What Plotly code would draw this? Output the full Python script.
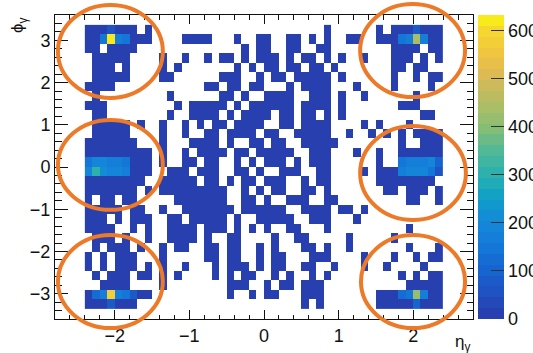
import numpy as np
import plotly.graph_objects as go

# ---- binning: eta in 0.1 steps, phi in pi/14 steps ----
eta_lo, eta_hi, n_eta = -2.4, 2.4, 48
n_phi = 30
phi_width = np.pi / 14

# ---- bin occupancy, highest-phi row first ('#' = low-count bin, '.' = empty) ----
occupancy = [
    "#######.#......." + "................#" + "......#.#######",
    "#########....###" + "#...#..##..##.#.#" + "..##..#########",
    "##.####........." + ".....#.##..##..##" + "........####.##",
    ".#####....#..#.." + "#.##.#.###.#.##.#" + ".#..#...###.#.#",
    ".###.#....#.#..." + "....#.#.##.##.##." + "#.......##.##..",
    ".#####....##...." + "..###..#.##.#####" + ".#......#..#.##",
    "####............" + "##.##.##...#.####" + "...#....#....#.",
    ".#.........#...." + "..##.#..####..###" + ".#..#......#...",
    "###.........#.##" + "###.#.######.####" + ".#.......###...",
    ".##........#..##" + "##.#.####.##.##.#" + ".#..........##.",
    ".#####.#..#..#.#" + ".##.####..##.####" + "....#.#...#....",
    ".#####....#..#.." + "##.####.##..#####" + "..#..#.#.#.####",
    "#######...#...##" + "##.#..##.##..####" + "#........#..###",
    "#########.#..#.#" + "###.##.#####..###" + "...#..#..######",
    "#########.#..##." + "##..#.#.###.#.###" + "......#..######",
    "#########..###.#" + "##..##.#..###..##" + "....#.#########",
    "########..#####." + "##.#.##.###..#.##" + "......########.",
    "#######.#.######" + "###..#.#.##..##.#" + ".......##.###.#",
    "#.##.##.....####" + "###..##.#..###..#" + "#.........##..#",
    "#####.##..#..###" + "####.######..####" + ".##.#..........",
    "###.#.###..##.##" + "###.#..#####..###" + "...#...........",
    "####..#.#..####." + "###.#.#.#..##...#" + "..........#....",
    ".###.#..#..####." + "#..##....#..##..." + "..#.....#......",
    ".#.###.#..#.##.." + "##.##..#.#...##.#" + "..#.......#...#",
    "#.#.###...#....." + "##.##..#.##...###" + "....#...#..#.##",
    "#.#.###.#.#..#.." + ".#.###.#.##..##.." + "#...#..#....#..",
    ".#.###.##.#.#..." + ".#.#.##..#.#..#.#" + ".........#.#.##",
    "..####....#....." + "...###..#.##.###." + "..........#####",
    "#########......." + "...#..#.##...###." + "......#########",
    "#######........." + ".............#.#." + "......#########",
]
low_count = 12

# ---- high-count bins: (row from top, eta column, entries) ----
hot_row = [0, 1, 1, 1, 1,
           14, 14, 14, 14, 14, 14, 15, 15, 15, 15, 15, 15,
           28, 28, 28, 28, 28, 28, 29,
           0, 1, 1, 1, 1,
           14, 14, 14, 14, 14, 14, 15, 15, 15, 15, 15, 15,
           28, 28, 28, 28, 29]
hot_col = [3, 2, 3, 4, 5,
           0, 1, 2, 3, 4, 5, 0, 1, 2, 3, 4, 5,
           1, 2, 3, 4, 5, 6, 3,
           44, 42, 43, 44, 45,
           42, 43, 44, 45, 46, 47, 42, 43, 44, 45, 46, 47,
           42, 43, 44, 45, 44]
hot_count = [55, 140, 625, 165, 140,
             150, 200, 190, 180, 180, 150, 200, 300, 220, 200, 200, 180,
             120, 160, 570, 180, 150, 80, 90,
             90, 150, 170, 430, 180,
             140, 160, 160, 160, 190, 100, 170, 190, 190, 190, 150, 60,
             120, 150, 410, 160, 110]

z_max = 633
cbar_ticks = [0, 100, 200, 300, 400, 500, 600]

# palette stops (fraction of z range, colour)
palette = [
    (0.00, "#2A3CAA"), (0.08, "#2050C0"), (0.16, "#1664D0"), (0.24, "#1478D8"),
    (0.32, "#1488D8"), (0.40, "#10A0C8"), (0.47, "#28B0B0"), (0.55, "#50B898"),
    (0.63, "#88BE74"), (0.71, "#B0BE64"), (0.79, "#D8B858"), (0.87, "#F0C440"),
    (0.95, "#F6D830"), (1.00, "#F9F50F"),
]

# ---- build histogram array ----
eta_centers = eta_lo + (np.arange(n_eta) + 0.5) * (eta_hi - eta_lo) / n_eta
phi_centers = (np.arange(n_phi) + 0.5 - n_phi / 2) * phi_width

z = np.full((n_phi, n_eta), np.nan)
for r, line in enumerate(occupancy):
    for c, ch in enumerate(line):
        if ch == "#":
            z[n_phi - 1 - r, c] = low_count
for r, c, v in zip(hot_row, hot_col, hot_count):
    z[n_phi - 1 - r, c] = v


def hex_rgb(h):
    h = h.lstrip("#")
    return np.array([int(h[i:i + 2], 16) for i in (0, 2, 4)], dtype=float)


def palette_at(f):
    fs = [p[0] for p in palette]
    cols = [hex_rgb(p[1]) for p in palette]
    for i in range(len(fs) - 1):
        if fs[i] <= f <= fs[i + 1]:
            t = (f - fs[i]) / (fs[i + 1] - fs[i])
            rgb = cols[i] + t * (cols[i + 1] - cols[i])
            return "rgb(%d,%d,%d)" % tuple(np.round(rgb).astype(int))
    return palette[-1][1]


# contour-style banded colour scale
n_bands = 28
colorscale = []
for i in range(n_bands):
    col = palette_at((i + 0.5) / n_bands)
    colorscale.append([i / n_bands, col])
    colorscale.append([(i + 1) / n_bands, col])

font_family = "Liberation Sans, Arial, sans-serif"
axis_col = "#111111"

fig = go.Figure(
    go.Heatmap(
        x=eta_centers, y=phi_centers, z=z,
        zmin=0, zmax=z_max, colorscale=colorscale,
        hoverongaps=False,
        colorbar=dict(
            thickness=26, thicknessmode="pixels",
            len=1, lenmode="fraction",
            x=1.012, xanchor="left", xpad=0,
            y=0.5, yanchor="middle", ypad=0,
            outlinewidth=0,
            ticks="inside", ticklen=13, tickwidth=1, tickcolor="#333333",
            tickvals=cbar_ticks,
            tickfont=dict(family=font_family, size=18, color="#111111"),
        ),
    )
)

fig.update_xaxes(
    range=[-2.8, 2.8], showgrid=False, zeroline=False,
    showline=True, linecolor=axis_col, linewidth=1, mirror="ticks",
    ticks="inside", ticklen=9, tickwidth=1, tickcolor=axis_col,
    tickvals=[-2, -1, 0, 1, 2],
    tickfont=dict(family=font_family, size=18, color="#111111"),
    minor=dict(ticks="inside", ticklen=4.5, tick0=0, dtick=0.2,
               tickcolor=axis_col, showgrid=False),
)
fig.update_yaxes(
    range=[-3.6, 3.6], showgrid=False, zeroline=False,
    showline=True, linecolor=axis_col, linewidth=1, mirror="ticks",
    ticks="inside", ticklen=13, tickwidth=1, tickcolor=axis_col,
    tickvals=[-3, -2, -1, 0, 1, 2, 3],
    tickfont=dict(family=font_family, size=18, color="#111111"),
    minor=dict(ticks="inside", ticklen=6.5, tick0=0, dtick=0.2,
               tickcolor=axis_col, showgrid=False),
)

# orange rings around the six high-occupancy regions (paper coordinates)
rings = [
    (0.007, 0.727, 0.258, 1.033),
    (0.007, 0.359, 0.258, 0.655),
    (0.007, -0.030, 0.258, 0.276),
    (0.730, 0.730, 0.981, 1.036),
    (0.730, 0.326, 0.983, 0.635),
    (0.732, -0.030, 0.981, 0.276),
]
for x0, y0, x1, y1 in rings:
    fig.add_shape(type="circle", xref="paper", yref="paper",
                  x0=x0, y0=y0, x1=x1, y1=y1,
                  line=dict(color="#EC7A28", width=4),
                  fillcolor="rgba(0,0,0,0)", layer="above")

fig.add_annotation(text="ϕ<sub>γ</sub>", xref="paper", yref="paper",
                   x=-0.086, y=1.0, xanchor="center", yanchor="top",
                   textangle=-90, showarrow=False,
                   font=dict(family=font_family, size=17, color="#111111"))
fig.add_annotation(text="η<sub>γ</sub>", xref="paper", yref="paper",
                   x=0.998, y=-0.035, xanchor="right", yanchor="top",
                   showarrow=False,
                   font=dict(family=font_family, size=17, color="#111111"))

fig.update_layout(
    width=533, height=353,
    margin=dict(l=55, r=60, t=15, b=34, autoexpand=False),
    paper_bgcolor="white", plot_bgcolor="white",
    showlegend=False,
)

fig.write_html("out.html")
